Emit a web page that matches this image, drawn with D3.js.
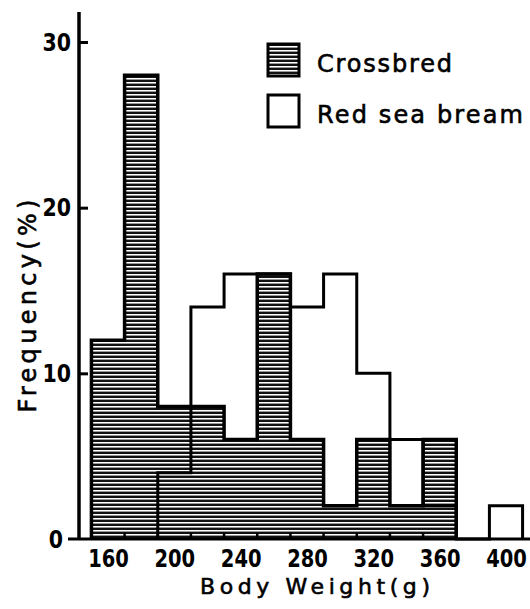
<!DOCTYPE html>
<html>
<head>
<meta charset="utf-8">
<script src="https://cdn.jsdelivr.net/npm/d3@7"></script>
<style>
  body { margin: 0; background: #fff; }
  svg { display: block; }
</style>
</head>
<body>
<div id="chart"></div>
<script>
// bin starts (g), each bin is 20 g wide
const binStarts = [150, 170, 190, 210, 230, 250, 270, 290, 310, 330, 350, 370, 390];
const binWidth = 20;
// frequency (%) per bin
const crossbred   = [12, 28, 8, 8, 6, 16, 6, 2, 6, 2, 6, 0, 0];
const redSeaBream = [0, 0, 4, 14, 16, 16, 14, 16, 10, 6, 2, 0, 2];
const xTicks = [160, 200, 240, 280, 320, 360, 400];
const yTicks = [0, 10, 20, 30];
const seriesNames = ['Crossbred', 'Red sea bream'];

const width = 530;
const height = 609;

const svg = d3.select('#chart')
  .append('svg')
  .attr('width', width)
  .attr('height', height)
  .attr('viewBox', [0, 0, width, height]);

// hatch pattern, dark horizontal lines
const defs = svg.append('defs');
const pat = defs.append('pattern')
  .attr('id', 'hatch')
  .attr('patternUnits', 'userSpaceOnUse')
  .attr('width', 8)
  .attr('height', 4);
pat.append('rect').attr('width', 8).attr('height', 4).attr('fill', '#111');
pat.append('rect').attr('y', 2).attr('width', 8).attr('height', 1).attr('fill', '#fff');
pat.append('rect').attr('y', 3).attr('width', 8).attr('height', 1).attr('fill', '#999');

const x = d3.scaleLinear()
  .domain([160, 400])
  .range([108, 506]);

const y = d3.scaleLinear()
  .domain([0, 30])
  .range([539, 42]);

// build histogram outline points from first to last non-zero bin
function stepPoints(vals) {
  const idx = vals.map((v, i) => v > 0 ? i : -1).filter(i => i >= 0);
  const first = idx[0], last = idx[idx.length - 1];
  const pts = [[binStarts[first], 0]];
  for (let i = first; i <= last; i++) {
    pts.push([binStarts[i], vals[i]]);
    pts.push([binStarts[i] + binWidth, vals[i]]);
  }
  pts.push([binStarts[last] + binWidth, 0]);
  return pts;
}

const line = d3.line()
  .x(d => x(d[0]))
  .y(d => y(d[1]));

const cbPts = stepPoints(crossbred);
const rsPts = stepPoints(redSeaBream);

// crossbred filled
svg.append('path')
  .attr('d', line(cbPts) + 'Z')
  .attr('fill', 'url(#hatch)');

// small ticks at crossbred bin edges
svg.append('g')
  .selectAll('line')
  .data(binStarts.filter((b, i) => i > 0 && crossbred[i] > 0 && crossbred[i - 1] > 0))
  .join('line')
    .attr('x1', d => x(d))
    .attr('x2', d => x(d))
    .attr('y1', y(0))
    .attr('y2', y(0) - 6)
    .attr('stroke', '#000')
    .attr('stroke-width', 2.5);

// outlines
svg.append('path')
  .attr('d', line(rsPts))
  .attr('fill', 'none')
  .attr('stroke', '#000')
  .attr('stroke-width', 3)
  .attr('stroke-linejoin', 'miter');

svg.append('path')
  .attr('d', line(cbPts))
  .attr('fill', 'none')
  .attr('stroke', '#000')
  .attr('stroke-width', 3.5)
  .attr('stroke-linejoin', 'miter');

// baseline
svg.append('line')
  .attr('x1', 68).attr('x2', 530)
  .attr('y1', y(0)).attr('y2', y(0))
  .attr('stroke', '#000')
  .attr('stroke-width', 3);

const numFont = '"DejaVu Sans", sans-serif';

// y axis
const yAxis = svg.append('g')
  .attr('transform', 'translate(79,0)')
  .call(d3.axisLeft(y).tickValues(yTicks).tickSize(-9).tickSizeOuter(0).tickPadding(0));
yAxis.select('.domain').attr('d', `M0,${y(0)}V12`).attr('stroke-width', 3.5);
yAxis.selectAll('.tick line').attr('stroke-width', 3);
yAxis.selectAll('.tick').filter(d => d === 0).select('line').remove();
yAxis.selectAll('text')
  .attr('font-family', numFont)
  .attr('font-weight', 'bold')
  .attr('font-size', 25)
  .attr('fill', '#000')
  .attr('x', null)
  .attr('transform', d => `translate(${d === 0 ? -16 : -8},0) scale(0.82,1)`);

// x axis labels
const xAxis = svg.append('g')
  .attr('transform', `translate(0,${y(0)})`)
  .call(d3.axisBottom(x).tickValues(xTicks).tickSize(0).tickPadding(10));
xAxis.select('.domain').remove();
xAxis.selectAll('text')
  .attr('font-family', numFont)
  .attr('font-weight', 'bold')
  .attr('font-size', 25)
  .attr('fill', '#000')
  .attr('transform', 'scale(0.78,1)');

// axis titles
const titleFont = '"DejaVu Sans", sans-serif';
svg.append('text')
  .attr('x', 315).attr('y', 594)
  .attr('text-anchor', 'middle')
  .attr('font-family', titleFont)
  .attr('font-size', 22)
  .attr('textLength', 230)
  .attr('lengthAdjust', 'spacing')
  .attr('stroke', '#000').attr('stroke-width', 0.6)
  .text('Body Weight(g)');

svg.append('text')
  .attr('transform', 'translate(36,306) rotate(-90)')
  .attr('text-anchor', 'middle')
  .attr('font-family', titleFont)
  .attr('font-size', 24)
  .attr('textLength', 213)
  .attr('lengthAdjust', 'spacing')
  .attr('stroke', '#000').attr('stroke-width', 0.6)
  .text('Frequency(%)');

// legend
const legend = svg.append('g')
  .selectAll('g')
  .data(seriesNames)
  .join('g')
    .attr('transform', (d, i) => `translate(268,${44 + i * 51})`);
legend.append('rect')
  .attr('width', 31).attr('height', 32)
  .attr('fill', (d, i) => i === 0 ? 'url(#hatch)' : '#fff')
  .attr('stroke', '#000')
  .attr('stroke-width', 3);
legend.append('text')
  .attr('x', 49).attr('y', 28)
  .attr('font-family', titleFont)
  .attr('font-size', 24)
  .attr('textLength', (d, i) => i === 0 ? 135 : 206)
  .attr('lengthAdjust', 'spacing')
  .attr('stroke', '#000').attr('stroke-width', 0.6)
  .text(d => d);
</script>
</body>
</html>
